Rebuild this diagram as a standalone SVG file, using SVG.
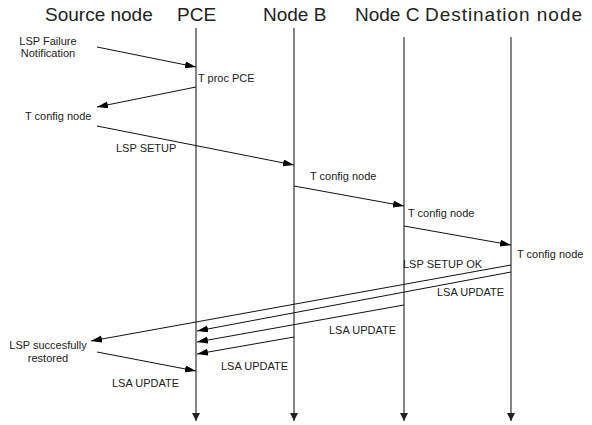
<svg xmlns="http://www.w3.org/2000/svg" width="592" height="425" viewBox="0 0 592 425">
<style>
.hdr{font-family:"Liberation Sans",Arial,sans-serif;font-size:19px;fill:#222}
.lbl{font-family:"Liberation Sans",Arial,sans-serif;font-size:11px;fill:#222}
.life{stroke:#333;stroke-width:1.2;fill:none}
.msg{stroke:#111;stroke-width:1;fill:none}
</style>
<defs>
<marker id="ah" markerUnits="userSpaceOnUse" markerWidth="12" markerHeight="8" refX="11" refY="3.5" orient="auto"><path d="M0,0 L11,3.5 L0,7 z" fill="#000"/></marker>
<marker id="dn" markerUnits="userSpaceOnUse" markerWidth="9" markerHeight="9" refX="8" refY="4" orient="auto"><path d="M0,0 L8,4 L0,8 z" fill="#222"/></marker>
</defs>
<g id="source"><text class="hdr" x="45" y="21">Source node</text></g>
<g id="pce"><text class="hdr" x="177" y="21">PCE</text><line class="life" x1="196" y1="28" x2="196" y2="421" marker-end="url(#dn)"/></g>
<g id="nodeB"><text class="hdr" x="263" y="21">Node B</text><line class="life" x1="294" y1="28" x2="294" y2="421" marker-end="url(#dn)"/></g>
<g id="nodeC"><text class="hdr" x="355" y="21">Node C</text><line class="life" x1="404" y1="37" x2="404" y2="421" marker-end="url(#dn)"/></g>
<g id="dest"><text class="hdr" x="425" y="21" textLength="157" lengthAdjust="spacing">Destination node</text><line class="life" x1="511" y1="37" x2="511" y2="421" marker-end="url(#dn)"/></g>
<g id="connectors">
<line class="msg" x1="97" y1="47" x2="196" y2="67" marker-end="url(#ah)"/>
<line class="msg" x1="196" y1="87" x2="97" y2="107" marker-end="url(#ah)"/>
<line class="msg" x1="97" y1="126" x2="294" y2="165" marker-end="url(#ah)"/>
<line class="msg" x1="294" y1="186" x2="404" y2="206" marker-end="url(#ah)"/>
<line class="msg" x1="404" y1="226" x2="511" y2="245" marker-end="url(#ah)"/>
<line class="msg" x1="511" y1="265" x2="91" y2="341" marker-end="url(#ah)"/>
<line class="msg" x1="511" y1="272" x2="197" y2="331" marker-end="url(#ah)"/>
<line class="msg" x1="404" y1="305" x2="197" y2="342" marker-end="url(#ah)"/>
<line class="msg" x1="294" y1="337" x2="197" y2="354" marker-end="url(#ah)"/>
<line class="msg" x1="97" y1="352" x2="196" y2="371" marker-end="url(#ah)"/>
</g>
<g id="labels">
<text class="lbl" x="48" y="45" text-anchor="middle">LSP Failure</text>
<text class="lbl" x="48" y="57" text-anchor="middle">Notification</text>
<text class="lbl" x="198" y="82">T proc PCE</text>
<text class="lbl" x="25" y="120">T config node</text>
<text class="lbl" x="116" y="152">LSP SETUP</text>
<text class="lbl" x="310" y="180">T config node</text>
<text class="lbl" x="408" y="217">T config node</text>
<text class="lbl" x="517" y="258">T config node</text>
<text class="lbl" x="403" y="268">LSP SETUP OK</text>
<text class="lbl" x="437" y="296">LSA UPDATE</text>
<text class="lbl" x="329" y="334">LSA UPDATE</text>
<text class="lbl" x="221" y="370">LSA UPDATE</text>
<text class="lbl" x="112" y="387">LSA UPDATE</text>
<text class="lbl" x="48" y="349" text-anchor="middle">LSP succesfully</text>
<text class="lbl" x="48" y="362" text-anchor="middle">restored</text>
</g>
</svg>
